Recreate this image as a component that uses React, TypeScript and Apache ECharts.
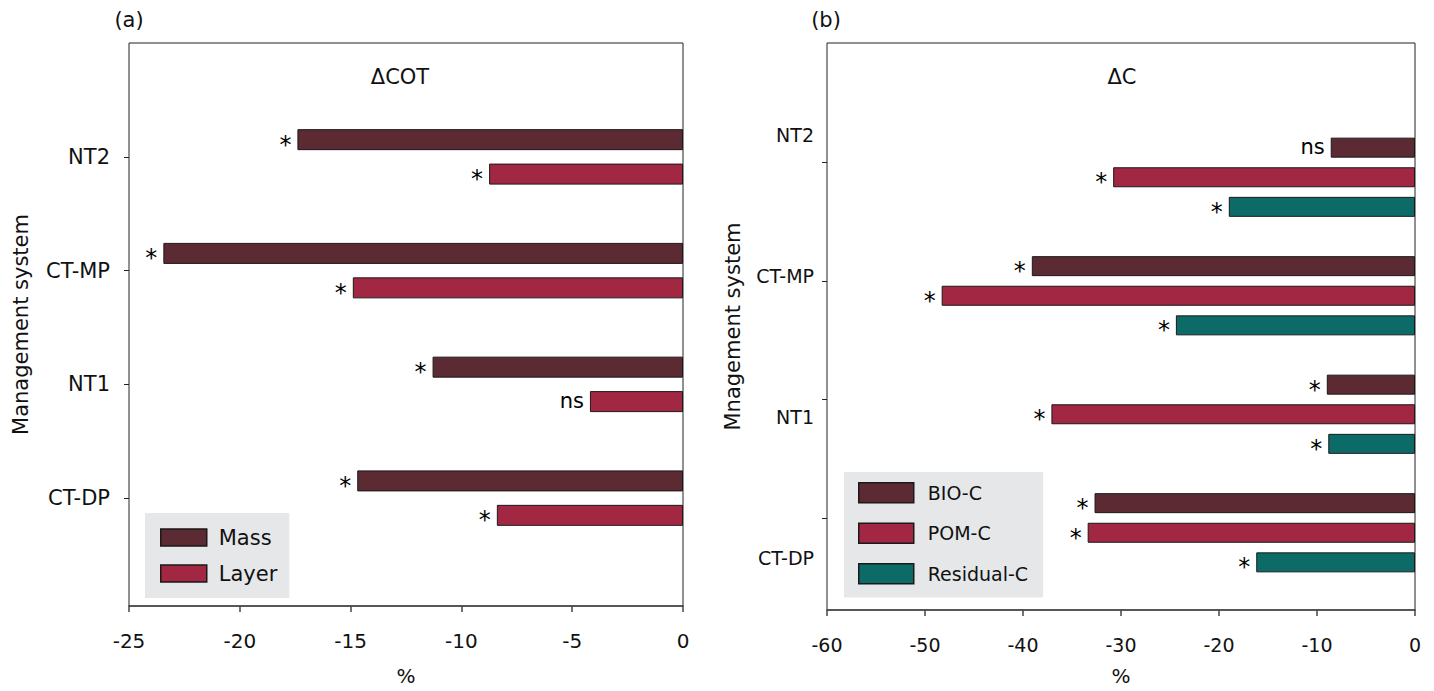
import React, { useEffect, useRef } from "react";
import * as echarts from "echarts";

// ---- Data ----
const leftCategories = ["NT2", "CT-MP", "NT1", "CT-DP"];
const massValues = [-17.4, -23.45, -11.3, -14.7];
const layerValues = [-8.75, -14.9, -4.2, -8.4];
const massSig = ["*", "*", "*", "*"];
const layerSig = ["*", "*", "ns", "*"];

const rightCategories = ["NT2", "CT-MP", "NT1", "CT-DP"];
const bioValues = [-8.6, -39.1, -9.0, -32.7];
const pomValues = [-30.8, -48.3, -37.1, -33.4];
const resValues = [-19.0, -24.4, -8.85, -16.2];
const bioSig = ["ns", "*", "*", "*"];
const pomSig = ["*", "*", "*", "*"];
const resSig = ["*", "*", "*", "*"];

const leftTicks = [-25, -20, -15, -10, -5, 0];
const rightTicks = [-60, -50, -40, -30, -20, -10, 0];

const FONT = "DejaVu Sans";
const C_MASS = "#5b2a33";
const C_LAYER = "#a22742";
const C_RES = "#0d6b67";
const BORDER = "#1a1a1a";

function barData(values: number[], sig: string[]) {
  return values.map((v, i) => ({
    value: v,
    label: { offset: sig[i] === "*" ? [0, 5] : [0, -1] },
  }));
}

function barSeries(
  name: string,
  values: number[],
  sig: string[],
  color: string,
  axisIdx: number,
  width: number,
  gap: string
) {
  return {
    name,
    type: "bar",
    xAxisIndex: axisIdx,
    yAxisIndex: axisIdx,
    barWidth: width,
    barGap: gap,
    data: barData(values, sig),
    itemStyle: { color, borderColor: BORDER, borderWidth: 1 },
    label: {
      show: true,
      position: "left",
      distance: 6,
      formatter: (p: any) => (sig[p.dataIndex] === "*" ? "{a|*}" : "{n|" + sig[p.dataIndex] + "}"),
      fontFamily: FONT,
      color: "#000",
      rich: {
        a: { fontFamily: FONT, fontSize: 24, color: "#000" },
        n: { fontFamily: FONT, fontSize: 21, color: "#000" },
      },
    },
  };
}

const hiddenX = (min: number, max: number, grid: number) => ({
  type: "value",
  gridIndex: grid,
  min,
  max,
  show: false,
  splitLine: { show: false },
});

export default function App() {
  const ref = useRef<HTMLDivElement>(null);
  useEffect(() => {
    if (!ref.current) return;
    const chart = echarts.init(ref.current, undefined, { renderer: "svg" });
    const axisColor = "#444";
    const tickLabel = { fontFamily: FONT, fontSize: 20, color: "#111" };
    const option: any = {
      animation: false,
      backgroundColor: "#fff",
      textStyle: { fontFamily: FONT },
      grid: [
        { left: 129, top: 43, width: 554, height: 569, show: true, borderColor: "#222", borderWidth: 1, backgroundColor: "transparent" },
        { left: 129, top: 100, width: 554, height: 455 },
        { left: 827, top: 43, width: 588, height: 569, show: true, borderColor: "#222", borderWidth: 1, backgroundColor: "transparent" },
        { left: 827, top: 118, width: 588, height: 474 },
        { left: 827, top: 103, width: 588, height: 474 },
        { left: 827, top: 64, width: 588, height: 564 },
      ],
      xAxis: [
        {
          type: "value",
          gridIndex: 0,
          min: leftTicks[0],
          max: leftTicks[leftTicks.length - 1],
          interval: 5,
          axisLine: { show: true, lineStyle: { color: axisColor, width: 1.5 } },
          axisTick: { show: true, length: 6, lineStyle: { color: axisColor, width: 1.5 } },
          axisLabel: { ...tickLabel, margin: 25 },
          splitLine: { show: false },
          name: "%",
          nameLocation: "middle",
          nameGap: 60,
          nameTextStyle: { fontFamily: FONT, fontSize: 20, color: "#111" },
        },
        hiddenX(leftTicks[0], leftTicks[leftTicks.length - 1], 1),
        {
          type: "value",
          gridIndex: 2,
          min: rightTicks[0],
          max: rightTicks[rightTicks.length - 1],
          interval: 10,
          axisLine: { show: true, lineStyle: { color: axisColor, width: 1.5 } },
          axisTick: { show: true, length: 6, lineStyle: { color: axisColor, width: 1.5 } },
          axisLabel: { ...tickLabel, fontSize: 19, margin: 25 },
          splitLine: { show: false },
          name: "%",
          nameLocation: "middle",
          nameGap: 56,
          nameTextStyle: { fontFamily: FONT, fontSize: 20, color: "#111" },
        },
        hiddenX(rightTicks[0], rightTicks[rightTicks.length - 1], 3),
        hiddenX(rightTicks[0], rightTicks[rightTicks.length - 1], 4),
        hiddenX(rightTicks[0], rightTicks[rightTicks.length - 1], 5),
      ],
      yAxis: [
        {
          type: "value",
          gridIndex: 0,
          min: 0,
          max: 1,
          axisLine: { show: false },
          axisTick: { show: false },
          axisLabel: { show: false },
          splitLine: { show: false },
          name: "Management system",
          nameLocation: "middle",
          nameGap: 98,
          nameTextStyle: { fontFamily: FONT, fontSize: 21, color: "#111" },
        },
        {
          type: "category",
          gridIndex: 1,
          inverse: true,
          data: leftCategories,
          axisLine: { show: false, onZero: false },
          axisTick: { show: true, alignWithLabel: true, length: 5, lineStyle: { color: "#222" } },
          axisLabel: { fontFamily: FONT, fontSize: 21, color: "#111", margin: 19 },
          splitLine: { show: false },
        },
        {
          type: "value",
          gridIndex: 2,
          min: 0,
          max: 1,
          axisLine: { show: false },
          axisTick: { show: false },
          axisLabel: { show: false },
          splitLine: { show: false },
          name: "Mnagement system",
          nameLocation: "middle",
          nameGap: 84,
          nameTextStyle: { fontFamily: FONT, fontSize: 21, color: "#111" },
        },
        { type: "category", gridIndex: 3, inverse: true, data: rightCategories, show: false, axisLine: { onZero: false } },
        {
          type: "category",
          gridIndex: 4,
          inverse: true,
          data: rightCategories,
          axisLine: { show: false, onZero: false },
          axisTick: { show: true, alignWithLabel: true, length: 5, lineStyle: { color: "#222" } },
          axisLabel: { show: false },
        },
        {
          type: "category",
          gridIndex: 5,
          inverse: true,
          data: rightCategories,
          axisLine: { show: false, onZero: false },
          axisTick: { show: false },
          axisLabel: { fontFamily: FONT, fontSize: 19, color: "#111", margin: 13 },
        },
      ],
      legend: [
        {
          data: ["Mass", "Layer"],
          orient: "vertical",
          left: 145,
          top: 513,
          padding: [14, 12, 14, 15],
          itemGap: 15,
          itemWidth: 46,
          itemHeight: 17,
          icon: "rect",
          backgroundColor: "#e6e7e9",
          selectedMode: false,
          itemStyle: { borderColor: BORDER, borderWidth: 1.5 },
          textStyle: { fontFamily: FONT, fontSize: 21, color: "#111", padding: [0, 0, 0, 7] },
        },
        {
          data: ["BIO-C", "POM-C", "Residual-C"],
          orient: "vertical",
          left: 844,
          top: 472,
          padding: [10, 15, 13, 14],
          itemGap: 19,
          itemWidth: 55,
          itemHeight: 20,
          icon: "rect",
          backgroundColor: "#e6e7e9",
          selectedMode: false,
          itemStyle: { borderColor: BORDER, borderWidth: 1.5 },
          textStyle: { fontFamily: FONT, fontSize: 19, color: "#111", padding: [0, 0, 0, 9] },
        },
      ],
      graphic: [
        { type: "text", x: 129, y: 20, style: { text: "(a)", font: `21px "${FONT}"`, fill: "#111", textAlign: "center", textVerticalAlign: "middle" } },
        { type: "text", x: 826, y: 20, style: { text: "(b)", font: `21px "${FONT}"`, fill: "#111", textAlign: "center", textVerticalAlign: "middle" } },
        { type: "text", x: 400, y: 77, style: { text: "ΔCOT", font: `21px "${FONT}"`, fill: "#111", textAlign: "center", textVerticalAlign: "middle" } },
        { type: "text", x: 1122, y: 77, style: { text: "ΔC", font: `21px "${FONT}"`, fill: "#111", textAlign: "center", textVerticalAlign: "middle" } },
      ],
      series: [
        barSeries("Mass", massValues, massSig, C_MASS, 1, 21, "64%"),
        barSeries("Layer", layerValues, layerSig, C_LAYER, 1, 21, "64%"),
        barSeries("BIO-C", bioValues, bioSig, C_MASS, 3, 20, "48%"),
        barSeries("POM-C", pomValues, pomSig, C_LAYER, 3, 20, "48%"),
        barSeries("Residual-C", resValues, resSig, C_RES, 3, 20, "48%"),
      ],
    };
    chart.setOption(option);
    return () => chart.dispose();
  }, []);
  return (
    <div
      ref={ref}
      style={{ position: "fixed", left: 0, top: 0, width: 1434, height: 691, background: "#fff" }}
    />
  );
}
